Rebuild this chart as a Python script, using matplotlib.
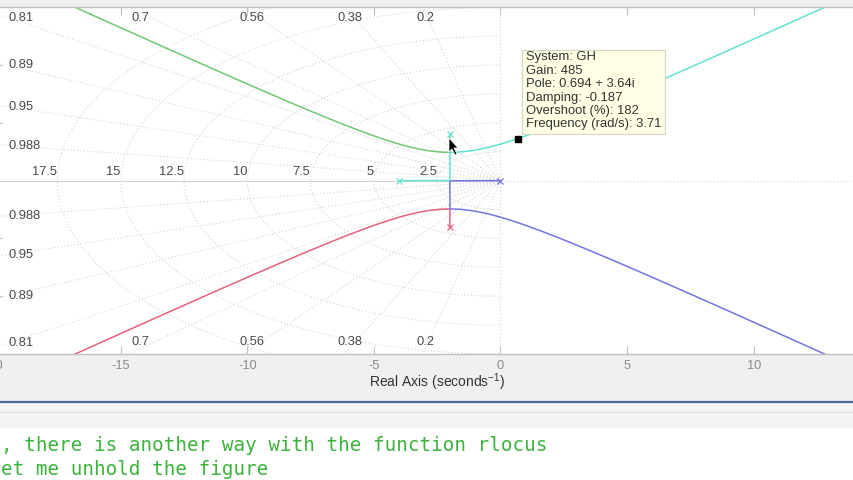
import numpy as np
import matplotlib.pyplot as plt
from matplotlib.patches import Rectangle, Polygon

plt.rcParams[ 'font.family' ] = [ 'Liberation Sans', 'DejaVu Sans' ]
plt.rcParams[ 'axes.unicode_minus' ] = False
plt.rcParams[ 'mathtext.fontset' ] = 'custom'
plt.rcParams[ 'mathtext.rm' ] = 'Liberation Sans'
plt.rcParams[ 'mathtext.it' ] = 'Liberation Sans:italic'

## DATA
# open loop GH = K / ( s (s+4) (s^2+4s+20) )
ol_poles = [ 0, -4, -2 + 4j, -2 - 4j ]

# sgrid values
zeta_vals = [ 0.2, 0.38, 0.56, 0.7, 0.81, 0.89, 0.95, 0.988 ]
zeta_labels = [ '0.2', '0.38', '0.56', '0.7', '0.81', '0.89', '0.95', '0.988' ]
wn_vals = [ 2.5, 5, 7.5, 10, 12.5, 15, 17.5 ]
wn_labels = [ '2.5', '5', '7.5', '10', '12.5', '15', '17.5' ]

x_ticks = [ -20, -15, -10, -5, 0, 5, 10, 15 ]
x_tick_labels = [ '-20', '-15', '-10', '-5', '0', '5', '10', '' ]   # 15 lies outside the window
y_ticks = [ -10, -5, 5, 10 ]

# data tip
tip_pole = 0.694 + 3.64j
tip_lines = [ 'System: GH', 'Gain: 485', 'Pole: 0.694 + 3.64i', 'Damping: -0.187',
              'Overshoot (%): 182', 'Frequency (rad/s): 3.71' ]

cmd_lines = [ ', there is another way with the function rlocus', 'et me unhold the figure' ]

# branch colours
c_blue = '#7474e4'
c_red = '#e8607c'
c_green = '#70c870'
c_cyan = '#62e2d0'
c_grid = '#d4d4d4'


## ROOT LOCUS
den = np.real( np.poly( ol_poles ) )


def roots_at( k ):
    c = den.copy()
    c[ -1 ] += k
    return np.roots( c )


def trace( gains, pick ):
    return np.array( [ pick( roots_at( k ) ) for k in gains ] )


k_real = np.linspace( 0, 63.999, 300 )          # real axis part
k_vert = np.linspace( 64.001, 100, 300 )        # vertical part at Re = -2
k_out = 100 + np.logspace( -4, 6, 800 )          # leaving towards asymptotes
k_top = np.linspace( 0, 100, 300 )

real_max = lambda r: np.max( r[ np.abs( r.imag ) < 1e-3 ].real ) + 0j
real_min = lambda r: np.min( r[ np.abs( r.imag ) < 1e-3 ].real ) + 0j
up_low = lambda r: r[ r.imag > 0 ][ np.argmin( r[ r.imag > 0 ].imag ) ]
up_high = lambda r: r[ np.argmax( r.imag ) ]
up_right = lambda r: r[ r.imag > 0 ][ np.argmax( r[ r.imag > 0 ].real ) ]
up_left = lambda r: r[ r.imag > 0 ][ np.argmin( r[ r.imag > 0 ].real ) ]

seg_a = trace( k_real, real_max )
seg_b = trace( k_real, real_min )
seg_c = trace( k_vert, up_low )
seg_e = trace( k_top, up_high )
seg_ur = trace( k_out, up_right )
seg_ul = trace( k_out, up_left )

blue_br = np.concatenate( [ seg_a, np.conj( seg_c ), np.conj( seg_ur ) ] )
red_br = np.concatenate( [ np.conj( seg_e ), np.conj( seg_ul ) ] )
green_br = np.concatenate( [ seg_e, seg_ul ] )
cyan_br = np.concatenate( [ seg_b, seg_c, seg_ur ] )

## FIGURE
fig = plt.figure( figsize = ( 8.54, 4.8 ), dpi = 100, facecolor = '#f0f0f0' )

# window background
bg = fig.add_axes( [ 0, 0, 1, 1 ], zorder = -1 )
bg.set_xlim( 0, 854 )
bg.set_ylim( 480, 0 )
bg.axis( 'off' )
bg.add_patch( Rectangle( ( 0, 403 ), 854, 25, facecolor = '#f5f5f5', edgecolor = 'none' ) )
bg.add_patch( Rectangle( ( 0, 428 ), 854, 52, facecolor = 'white', edgecolor = 'none' ) )
bg.plot( [ 0, 854 ], [ 402, 402 ], color = '#4a6b9c', lw = 1.6 )
bg.plot( [ 0, 854 ], [ 412, 412 ], color = '#e0e0e0', lw = 0.8 )
for i, line in enumerate( cmd_lines ):
    bg.text( 1, 451 + 24 * i, line, family = 'DejaVu Sans Mono', fontsize = 13.85,
             color = '#3cb43c', ha = 'left', va = 'baseline' )

# axes: x from -20 to 15 at 25.32 px/unit, y from -15 to 15
ax = fig.add_axes( [ -5.9 / 854, ( 480 - 354 ) / 480, 886.2 / 854, 346.7 / 480 ] )
ax.set_facecolor( 'white' )
ax.set_xlim( -20, 15 )
ax.set_ylim( -15, 15 )

# sgrid: damping lines
dot = ( 0, ( 1, 2 ) )
ax.plot( [ -20, 0 ], [ 0, 0 ], color = c_grid, lw = 0.8 )
ax.plot( [ 0, 15 ], [ 0, 0 ], color = c_grid, lw = 0.8, ls = dot )
ax.plot( [ 0, 0 ], [ -15, 15 ], color = c_grid, lw = 0.8, ls = dot )
x_in, y_in = -19.45, 14.5
for z, lab in zip( zeta_vals, zeta_labels ):
    th = np.arccos( z )
    t = np.tan( th )
    r = 40
    ax.plot( [ 0, -r * np.cos( th ) ], [ 0, r * np.sin( th ) ], color = c_grid, lw = 0.8, ls = dot )
    ax.plot( [ 0, -r * np.cos( th ) ], [ 0, -r * np.sin( th ) ], color = c_grid, lw = 0.8, ls = dot )
    xc = -y_in / t
    if xc >= x_in:
        ax.text( xc, 14.1, lab, ha = 'center', va = 'center', fontsize = 9.3, color = '#4a4a4a' )
        ax.text( xc, -13.95, lab, ha = 'center', va = 'center', fontsize = 9.3, color = '#4a4a4a' )
    else:
        ax.text( x_in, -x_in * t, lab, ha = 'left', va = 'center', fontsize = 9.3, color = '#4a4a4a' )
        ax.text( x_in, x_in * t, lab, ha = 'left', va = 'center', fontsize = 9.3, color = '#4a4a4a' )

# sgrid: natural frequency semicircles
ang = np.linspace( np.pi / 2, 3 * np.pi / 2, 300 )
for wn, lab in zip( wn_vals, wn_labels ):
    ax.plot( wn * np.cos( ang ), wn * np.sin( ang ), color = c_grid, lw = 0.8, ls = dot )
    ax.text( -wn, 0.25, lab, ha = 'right', va = 'bottom', fontsize = 9.3, color = '#4a4a4a' )

# locus branches
ax.plot( red_br.real, red_br.imag, color = c_red, lw = 1.1 )
ax.plot( blue_br.real, blue_br.imag, color = c_blue, lw = 1.1 )
ax.plot( green_br.real, green_br.imag, color = c_green, lw = 1.1 )
ax.plot( cyan_br.real, cyan_br.imag, color = c_cyan, lw = 1.1 )

# open loop poles
pole_cols = [ c_blue, c_cyan, c_cyan, c_red ]
for p, c in zip( ol_poles, pole_cols ):
    ax.plot( np.real( p ), np.imag( p ), 'x', color = c, ms = 4, mew = 0.9 )

ax.plot( tip_pole.real, tip_pole.imag, 's', color = 'black', ms = 4.2 )

# axes styling
for s in ax.spines.values():
    s.set_color( '#c0c0c0' )
    s.set_linewidth( 1.0 )
ax.set_xticks( x_ticks )
ax.set_xticklabels( x_tick_labels )
ax.set_yticks( y_ticks )
ax.tick_params( axis = 'both', direction = 'in', length = 5.8, color = '#c0c0c0',
                top = True, right = True, labelsize = 9.2, labelcolor = '#8a8a8a', pad = 4 )
ax.tick_params( axis = 'y', labelleft = False )
ax.set_xlabel( 'Real Axis (seconds$^{-1}$)', fontsize = 10, color = '#333333' )
ax.xaxis.set_label_coords( 0.5, -0.05 )

# overlay: data tip and cursor
fg = fig.add_axes( [ 0, 0, 1, 1 ], zorder = 5 )
fg.set_xlim( 0, 854 )
fg.set_ylim( 480, 0 )
fg.axis( 'off' )
fg.patch.set_alpha( 0 )
fg.add_patch( Rectangle( ( 522, 50 ), 143, 84, facecolor = '#ffffe6', edgecolor = '#d6d6c4', lw = 0.8 ) )
for i, line in enumerate( tip_lines ):
    fg.text( 526, 57 + 13.5 * i, line, ha = 'left', va = 'center', fontsize = 9.4, color = '#333333' )
fg.add_patch( Polygon( [ ( 449, 138 ), ( 449, 152 ), ( 452, 149 ), ( 455, 155 ), ( 457, 154 ),
                         ( 454, 148 ), ( 458, 148 ) ], closed = True, facecolor = 'black',
                       edgecolor = 'white', lw = 0.5 ) )

fig.savefig( 'out.png', dpi = 100, facecolor = fig.get_facecolor() )
